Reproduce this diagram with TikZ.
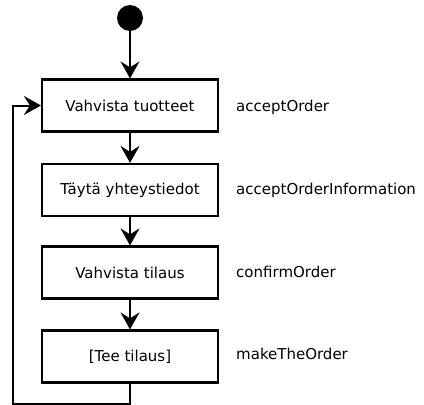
\documentclass[tikz,border=0pt]{standalone}
\usepackage{fontspec}
\setmainfont{DejaVu Sans}
\usetikzlibrary{arrows.meta, positioning}

\begin{document}
\begin{tikzpicture}[
        x=1pt, y=-1pt,
        every node/.style={font=\fontsize{15}{18}\selectfont},
        action/.style={draw=black, line width=2.2pt, fill=white,
                       minimum width=176pt, minimum height=52pt, inner sep=0pt},
        opname/.style={anchor=west, inner sep=0pt},
        flow/.style={line width=2pt, -{Stealth[length=17pt, width=19pt, inset=6pt]}}
      ]
        \useasboundingbox (0,0) rectangle (424,405);
        % start state
        \node[circle, fill=black, minimum size=26pt, inner sep=0pt] (start) at (130,18) {};
        % actions
        \node[action] (tuotteet) at (130,105.5) {Vahvista tuotteet};
        \node[action] (yhteys) at (130,190) {Täytä yhteystiedot};
        \node[action] (vahvista) at (130,272.5) {Vahvista tilaus};
        \node[action] (tilaus) at (130,356.5) {[Tee tilaus]};
        % operation names
        \node[opname] (op1) at (236,107) {acceptOrder};
        \node[opname] (op2) at (236,190) {acceptOrderInformation};
        \node[opname] (op3) at (236,272) {confirmOrder};
        \node[opname] (op4) at (236,354) {makeTheOrder};
        % flows
        \draw[flow] (start) -- (tuotteet);
        \draw[flow] (tuotteet) -- (yhteys);
        \draw[flow] (yhteys) -- (vahvista);
        \draw[flow] (vahvista) -- (tilaus);
        % loop back
        \coordinate (down) at (130,404);
        \coordinate (left) at (13,404);
        \draw[flow] (tilaus.south) -- (down) -- (left) |- (tuotteet.west);
      \end{tikzpicture}
\end{document}
